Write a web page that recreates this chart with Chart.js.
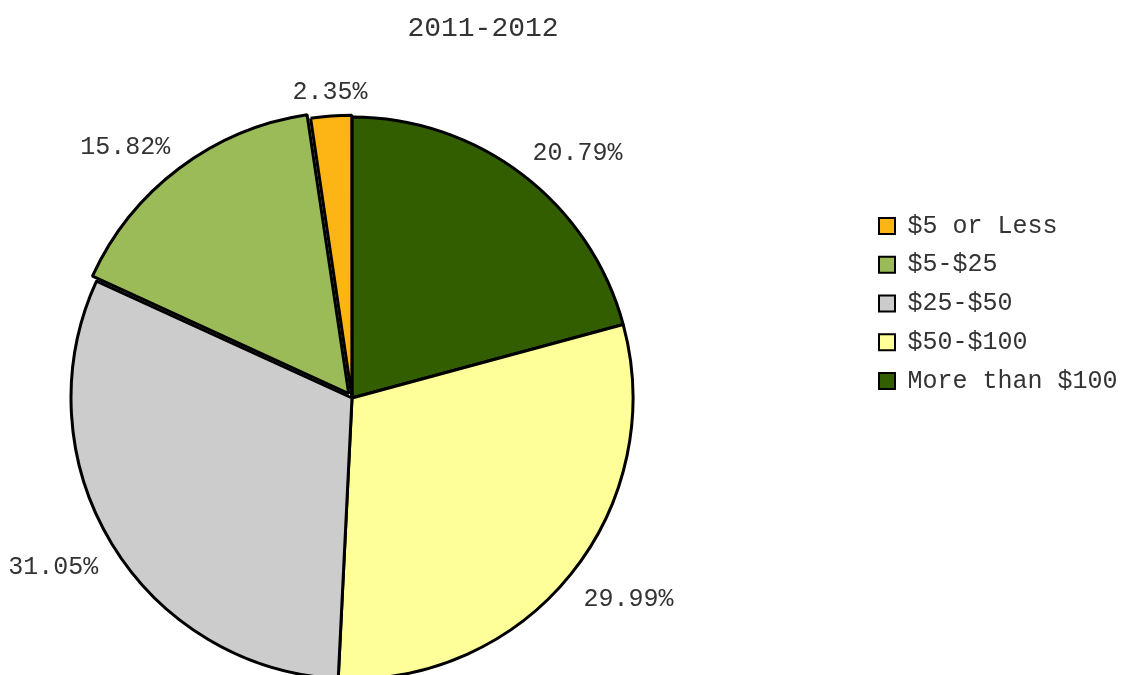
<!DOCTYPE html>
<html><head><meta charset="utf-8">
<script src="https://cdn.jsdelivr.net/npm/chart.js@4"></script>
<style>html,body{margin:0;padding:0;background:#fff;overflow:hidden}#wrap{position:relative;width:1130px;height:675px}</style>
</head><body><div id="wrap"><canvas id="c"></canvas></div>
<script>
const titleText = '2011-2012';
const categories = ['More than $100', '$50-$100', '$25-$50', '$5-$25', '$5 or Less'];
const shares = [20.79, 29.99, 31.05, 15.82, 2.35];
const sliceColors = ['#335E00', '#FFFF99', '#CCCCCC', '#9BBB59', '#FDB515'];
const sliceOffsets = [0, 0, 0, 22, 4];

const FONT = "'Courier New', 'Liberation Mono', monospace";
const TEXT = '#333333';
const CX = 352, CY = 398, R = 281;

const placePlugin = {
  id: 'place',
  afterLayout(chart) {
    chart.chartArea = {left: CX - 300, right: CX + 300, top: CY - 300, bottom: CY + 300, width: 600, height: 600};
    const t = chart.titleBlock;
    if (t) { const hw = 200; t.left = 483 - hw; t.right = 483 + hw; t.width = 2 * hw; t.top = 28.5 - 14; t.bottom = t.top + 28; t.height = 28; }
    const lg = chart.legend;
    if (lg) {
      const pad = lg.options.labels.padding;
      lg.left = 879 - pad; lg.right = 1130; lg.width = lg.right - lg.left;
      lg.top = 226 - 12.5 - pad; lg.bottom = lg.top + 300; lg.height = 300;
    }
  }
};

function ramp(v) {
  const a = Math.min(Math.max((Math.abs(v) - 0.1) / 0.2, 0), 1);
  return Math.sign(v) * a;
}

const labelPlugin = {
  id: 'sliceLabels',
  afterDatasetsDraw(chart) {
    const ctx = chart.ctx;
    const meta = chart.getDatasetMeta(0);
    const fs = 25;
    ctx.save();
    ctx.font = fs + 'px ' + FONT;
    ctx.fillStyle = TEXT;
    ctx.textAlign = 'center';
    ctx.textBaseline = 'middle';
    meta.data.forEach((arc, i) => {
      const p = arc.getProps(['x', 'y', 'startAngle', 'endAngle', 'outerRadius'], true);
      const mid = (p.startAngle + p.endAngle) / 2;
      const txt = shares[i].toFixed(2) + '%';
      const hw = ctx.measureText(txt).width / 2;
      const D = p.outerRadius + 16 + (arc.options.offset || 0) / 4;
      const dx = Math.cos(mid), dy = Math.sin(mid);
      const hh = dy > 0 ? fs * 0.6 : fs * 0.34;
      ctx.fillText(txt, p.x + dx * D + hw * ramp(dx), p.y + dy * D + hh * ramp(dy));
    });
    ctx.restore();
  }
};

new Chart(document.getElementById('c'), {
  type: 'pie',
  data: {
    labels: categories,
    datasets: [{
      data: shares,
      backgroundColor: sliceColors,
      borderColor: '#000000',
      borderWidth: 3,
      offset: sliceOffsets,
      radius: R
    }]
  },
  options: {
    responsive: true,
    maintainAspectRatio: false,
    animation: false,
    events: [],
    radius: R,
    plugins: {
      tooltip: {enabled: false},
      title: {display: true, text: titleText, color: TEXT, padding: 0,
        font: {family: FONT, size: 28, weight: 'normal', lineHeight: 1}},
      legend: {
        position: 'right', align: 'start', reverse: true,
        labels: {
          boxWidth: 16, boxHeight: 16, padding: 13.75, color: TEXT,
          font: {family: FONT, size: 25},
          generateLabels(chart) {
            const items = Chart.overrides.pie.plugins.legend.labels.generateLabels(chart);
            items.forEach(it => { it.lineWidth = 2; it.strokeStyle = '#000000'; });
            return items;
          }
        }
      }
    }
  },
  plugins: [placePlugin, labelPlugin]
});
</script></body></html>
